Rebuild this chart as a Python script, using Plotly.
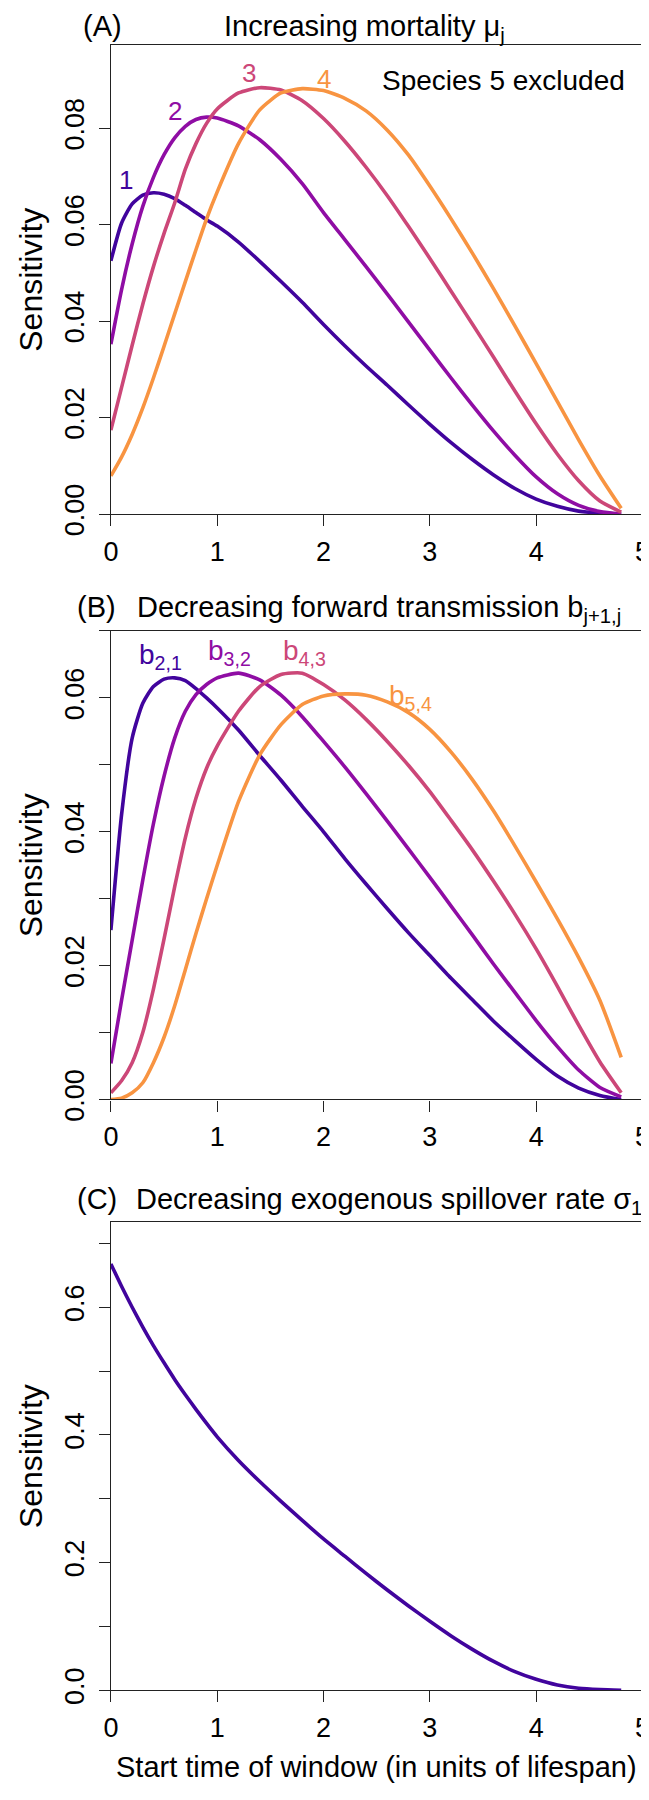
import plotly.graph_objects as go

W, H = 649, 1800

# ---------------- data ----------------
x_grid = [0, 0.1, 0.2, 0.3, 0.4, 0.5, 0.6, 0.7, 0.8, 0.9, 1.0, 1.2, 1.4, 1.6, 1.8,
          2.0, 2.2, 2.4, 2.6, 2.8, 3.0, 3.2, 3.4, 3.6, 3.8, 4.0, 4.2, 4.4, 4.6, 4.8]

# Panel A: increasing mortality mu_j (species 1-4)
mort_1 = [.0525, .0603, .0643, .0661, .0666, .0663, .0654, .0640, .0625, .0610, .0597, .0564, .0524,
          .0482, .0439, .0393, .0349, .0307, .0267, .0226, .0186, .0148, .0113, .0081, .0053, .0031,
          .0016, .0006, .0002, .0]
mort_2 = [.0352, .0465, .0560, .0638, .0698, .0745, .0780, .0804, .0818, .0823, .0821, .0805, .0776,
          .0735, .0685, .0625, .0569, .0513, .0456, .0398, .0340, .0282, .0226, .0172, .0122, .0077,
          .0042, .0018, .0005, .0]
mort_3 = [.0174, .0262, .0350, .0435, .0513, .0582, .0645, .0715, .0768, .0810, .0840, .0873, .0884,
          .0879, .0857, .0820, .0773, .0719, .0660, .0596, .0530, .0462, .0394, .0325, .0255, .0187,
          .0124, .0069, .0027, .0004]
mort_4 = [.0079, .0118, .0165, .0220, .0282, .0348, .0415, .0482, .0548, .0612, .0668, .0768, .0838,
          .0873, .0882, .0878, .0862, .0836, .0796, .0744, .0680, .0612, .0541, .0467, .0390, .0312,
          .0233, .0154, .0079, .0012]

# Panel B: decreasing forward transmission b_{j+1,j}
trans_21 = [.0253, .0425, .0540, .0592, .0617, .0628, .0630, .0626, .0614, .0600, .0585, .0552, .0514,
            .0477, .0438, .0400, .0360, .0322, .0285, .0249, .0215, .0181, .0149, .0117, .0088, .0060,
            .0035, .0017, .0006, .0]
trans_32 = [.0054, .0148, .0238, .0328, .0412, .0483, .0540, .0580, .0605, .0620, .0630, .0637, .0627,
            .0604, .0572, .0535, .0497, .0457, .0416, .0374, .0332, .0289, .0246, .0202, .0160, .0118,
            .0079, .0044, .0018, .0004]
trans_43 = [.0010, .0028, .0055, .0100, .0165, .0240, .0318, .0391, .0450, .0495, .0528, .0580, .0617,
            .0635, .0637, .0620, .0597, .0568, .0535, .0499, .0460, .0417, .0373, .0326, .0277, .0225,
            .0169, .0111, .0056, .0010]
trans_54 = [.0000, .0002, .0010, .0025, .0055, .0093, .0140, .0194, .0248, .0300, .0350, .0445, .0515,
            .0560, .0590, .0603, .0606, .0604, .0594, .0578, .0553, .0519, .0478, .0431, .0379, .0325,
            .0270, .0212, .0148, .0063]

# Panel C: decreasing exogenous spillover rate sigma_1
spill_1 = [.668, .633, .600, .569, .540, .513, .487, .463, .440, .418, .397, .360, .327, .296, .266,
           .237, .210, .183, .157, .132, .108, .085, .064, .045, .029, .017, .008, .003, .001, .0]

curve_colors = ["#41049d", "#8f0da4", "#cc4778", "#f89441"]

mort_labels = ["1", "2", "3", "4"]
mort_label_x = [0.14, 0.60, 1.30, 2.00]
mort_label_y = [0.0693, 0.0836, 0.0915, 0.0903]

trans_labels = ["b<sub>2,1</sub>", "b<sub>3,2</sub>", "b<sub>4,3</sub>", "b<sub>5,4</sub>"]
trans_label_x = [0.25, 0.89, 1.60, 2.60]
trans_label_y = [0.0662, 0.0668, 0.0668, 0.0601]

x_ticks = [0, 1, 2, 3, 4, 5]
# (major tick step, minor tick step, label format) per panel
y_tick_steps = [(0.02, None, ".2f"), (0.02, 0.01, ".2f"), (0.2, 0.1, ".1f")]
y_max = [0.0972, 0.070, 0.7337]

# ---------------- layout geometry (pixels) ----------------
FONT = "Liberation Sans, Arial, Helvetica, sans-serif"
LINE = "#222222"
X0, X1 = 97.3, 642.3
panels_px = [(37.7, 512.3), (630.7, 1105.0), (1229.0, 1703.0)]


def fx(p):
    return p / W


def fy(p):
    return 1 - p / H


fig = go.Figure()

series = [
    (1, [mort_1, mort_2, mort_3, mort_4]),
    (2, [trans_21, trans_32, trans_43, trans_54]),
    (3, [spill_1]),
]
for idx, ys in series:
    for k, yv in enumerate(ys):
        fig.add_trace(go.Scatter(
            x=x_grid, y=yv, mode="lines",
            line=dict(color=curve_colors[k], width=3.6, shape="spline", smoothing=0.6),
            xaxis="x" if idx == 1 else f"x{idx}",
            yaxis="y" if idx == 1 else f"y{idx}",
            showlegend=False, hoverinfo="skip"))

layout = {}
for i, (top, bot) in enumerate(panels_px):
    n = "" if i == 0 else str(i + 1)
    common = dict(showline=True, linecolor=LINE, linewidth=1.3, mirror=True,
                  ticks="outside", ticklen=11, tickwidth=1.3, tickcolor=LINE,
                  showgrid=False, zeroline=False, ticklabeloverflow="allow",
                  tickfont=dict(family=FONT, size=27, color="black"))
    layout["xaxis" + n] = dict(domain=[fx(X0), fx(X1)], range=[0, 5], tickvals=x_ticks,
                               ticktext=[str(t) for t in x_ticks],
                               anchor="y" + n, ticklabelstandoff=2, **common)
    major, minor, fmt = y_tick_steps[i]
    yax = dict(domain=[fy(bot), fy(top)], range=[0, y_max[i]], tickmode="linear", tick0=0,
               dtick=major, tickformat=fmt, tickangle=-90, anchor="x" + n,
               ticklabelstandoff=4, **common)
    if minor is not None:
        yax["minor"] = dict(tickmode="linear", tick0=0, dtick=minor, ticks="outside", ticklen=11,
                            tickwidth=1.3, tickcolor=LINE, showgrid=False)
    layout["yaxis" + n] = yax

annotations = []
# panel titles (top-anchored)
titles = [("(A)", 67, 0, "Increasing mortality μ<sub>j</sub>", 211),
          ("(B)", 60, 588, "Decreasing forward transmission b<sub>j+1,j</sub>", 122),
          ("(C)", 60, 1188, "Decreasing exogenous spillover rate σ<sub>1</sub>", 121)]
for tag, tx, ty, text, lx in titles:
    annotations.append(dict(text=tag, x=fx(tx), y=fy(ty), xref="paper", yref="paper",
                            xanchor="left", yanchor="top", showarrow=False,
                            font=dict(family=FONT, size=29, color="black")))
    annotations.append(dict(text=text, x=fx(lx), y=fy(ty), xref="paper", yref="paper",
                            xanchor="left", yanchor="top", showarrow=False,
                            font=dict(family=FONT, size=29, color="black")))
# y axis titles
for top, bot in panels_px:
    annotations.append(dict(text="Sensitivity", x=fx(15.5), y=fy((top + bot) / 2), xref="paper",
                            yref="paper", xanchor="center", yanchor="middle", textangle=-90,
                            showarrow=False, font=dict(family=FONT, size=32, color="black")))
# x axis title
annotations.append(dict(text="Start time of window (in units of lifespan)", x=fx(370), y=fy(1781),
                        xref="paper", yref="paper", xanchor="center", yanchor="middle",
                        showarrow=False, font=dict(family=FONT, size=29, color="black")))
# Species 5 excluded
annotations.append(dict(text="Species 5 excluded", x=fx(626), y=fy(73), xref="paper", yref="paper",
                        xanchor="right", yanchor="middle", showarrow=False,
                        font=dict(family=FONT, size=28, color="black")))
# curve labels panel A
for k in range(4):
    annotations.append(dict(text=mort_labels[k], x=mort_label_x[k], y=mort_label_y[k], xref="x",
                            yref="y", xanchor="center", yanchor="middle", showarrow=False,
                            font=dict(family=FONT, size=26, color=curve_colors[k])))
# curve labels panel B
for k in range(4):
    annotations.append(dict(text=trans_labels[k], x=trans_label_x[k], y=trans_label_y[k], xref="x2",
                            yref="y2", xanchor="left", yanchor="middle", showarrow=False,
                            font=dict(family=FONT, size=28, color=curve_colors[k])))

fig.update_layout(width=W, height=H, margin=dict(l=0, r=0, t=0, b=0),
                  paper_bgcolor="white", plot_bgcolor="white", showlegend=False,
                  annotations=annotations, **layout)

fig.write_html("out.html")
